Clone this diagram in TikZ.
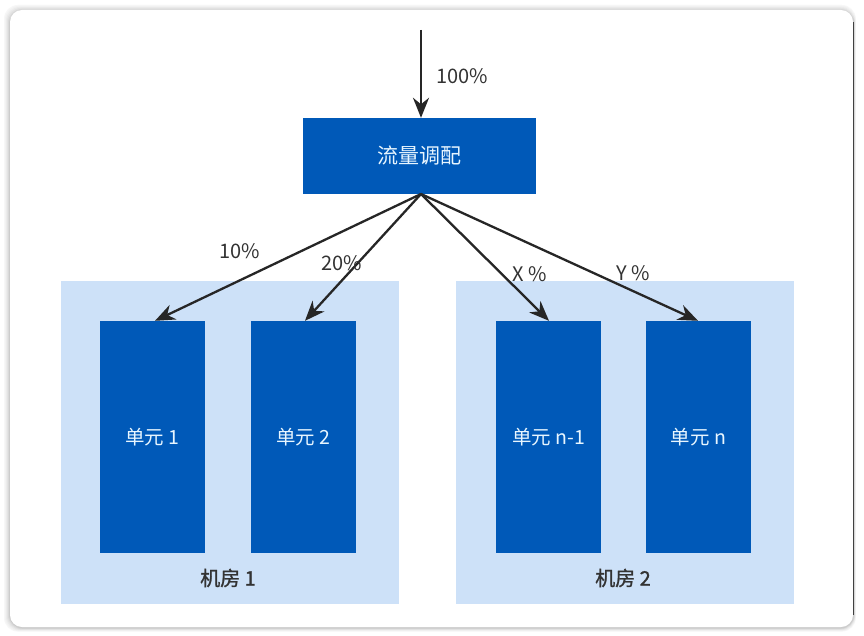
\documentclass[tikz,border=0pt]{standalone}
\usepackage{fontspec}
\setmainfont{Noto Sans CJK SC}
\newfontfamily\medfont[FakeBold=1.3]{Noto Sans CJK SC}
\usetikzlibrary{arrows.meta}
\definecolor{boxblue}{HTML}{0059B8}
\definecolor{roomblue}{HTML}{CDE1F8}
\definecolor{txtgray}{HTML}{333333}
\definecolor{unittxt}{HTML}{E8F6FF}
\tikzset{
  x=1pt,y=-1pt,
  room/.style={fill=roomblue,draw=none},
  unitbox/.style={fill=boxblue,draw=none,text=unittxt,font=\fontsize{19.5}{22}\selectfont},
  flow/.style={draw=black!85,line width=2.3pt,-{Stealth[length=20pt,width=16pt]}},
  lbl/.style={text=txtgray,font=\fontsize{20}{23}\selectfont},
  roomlbl/.style={text=txtgray,font=\fontsize{20}{23}\selectfont\medfont},
}
\begin{document}
\begin{tikzpicture}
\useasboundingbox (0,0) rectangle (864,636);
\fill[white] (0,0) rectangle (864,636);
% outer frame shadow
\foreach \i/\c in {6/3,5/5,4/8,3/11,2/15,1/20}{
  \fill[black!\c,rounded corners=14pt] (10-\i,10-\i+1) rectangle (854+\i*0.3,628+\i*0.6);
}
\fill[white,rounded corners=12pt] (10,10) rectangle (853,627);
\draw[black!75,line width=1.2pt] (853.5,22) -- (853.5,615);
% rooms
\node[room,minimum width=338pt,minimum height=323pt,inner sep=0pt] (room1) at (230,442.5) {};
\node[room,minimum width=338pt,minimum height=323pt,inner sep=0pt] (room2) at (625,442.5) {};
% top box
\node[fill=boxblue,text=unittxt,minimum width=233pt,minimum height=76pt,inner sep=0pt,font=\fontsize{21}{24}\selectfont] (ctl) at (419.5,156) {流量调配};
% units
\node[unitbox,minimum width=105pt,minimum height=232pt,inner sep=0pt] (u1) at (152.5,437) {单元 1};
\node[unitbox,minimum width=105pt,minimum height=232pt,inner sep=0pt] (u2) at (303.5,437) {单元 2};
\node[unitbox,minimum width=105pt,minimum height=232pt,inner sep=0pt] (u3) at (548.5,437) {单元 n-1};
\node[unitbox,minimum width=105pt,minimum height=232pt,inner sep=0pt] (u4) at (698.5,437) {单元 n};
% room labels
\node[roomlbl] (r1l) at (228,578) {机房 1};
\node[roomlbl] (r2l) at (623,578) {机房 2};
% arrows
\coordinate (src) at (421,30);
\coordinate (hub) at (421,194);
\draw[flow] (src) -- (ctl.north -| src);
\draw[flow] (hub) -- (u1.north -| 155,0);
\draw[flow] (hub) -- (u2.north -| 305,0);
\draw[flow] (hub) -- (u3.north -| 549,0);
\draw[flow] (hub) -- (u4.north -| 698,0);
% labels
\node[lbl] (l100) at (462,76) {100\%};
\node[lbl] (l10) at (240,251) {10\%};
\node[lbl] (l20) at (342,263) {20\%};
\node[lbl] (lx) at (530,274) {X \%};
\node[lbl] (ly) at (633,273) {Y \%};
\end{tikzpicture}
\end{document}
